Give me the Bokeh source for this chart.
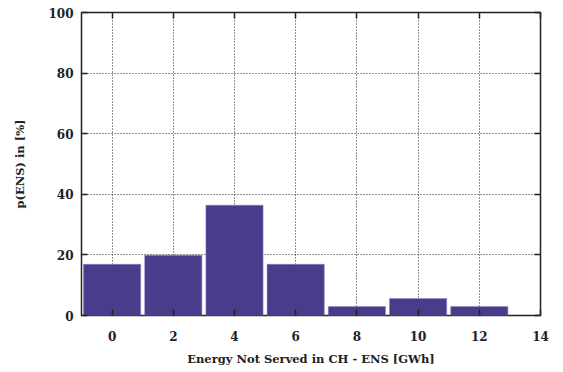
from bokeh.plotting import figure
from bokeh.models import LinearAxis, Range1d, FixedTicker, ColumnDataSource
from bokeh.embed import file_html
from bokeh.resources import INLINE

ens_gwh = [0, 2, 4, 6, 8, 10, 12]
prob_pct = [16.9, 19.9, 36.4, 16.9, 3.0, 5.6, 3.0]
x_ticks = [0, 2, 4, 6, 8, 10, 12, 14]
y_ticks = [0, 20, 40, 60, 80, 100]

src = ColumnDataSource(dict(x=ens_gwh, top=prob_pct))

FONT = "DejaVu Serif"

p = figure(width=555, height=368, output_backend="svg", toolbar_location=None,
           x_range=Range1d(-1, 14), y_range=Range1d(0, 100),
           min_border_left=81, min_border_right=15, min_border_top=12, min_border_bottom=45)

p.vbar(x="x", top="top", bottom=0, width=1.87, source=src,
       fill_color="#483D8B", line_color="#8f86c4", line_width=0.5)

p.outline_line_color="#222222"
p.outline_line_width=1.5

for g in (p.xgrid[0], p.ygrid[0]):
    g.grid_line_color = "black"
    g.grid_line_dash = "1 2"
    g.grid_line_alpha = 0.85
p.xgrid[0].ticker = FixedTicker(ticks=x_ticks)
p.ygrid[0].ticker = FixedTicker(ticks=y_ticks)

def style(ax, ticks, show_labels=True):
    ax.ticker = FixedTicker(ticks=ticks)
    ax.axis_line_color = None
    ax.major_tick_in = 6
    ax.major_tick_out = 0
    ax.major_tick_line_color = "#222222"
    ax.major_tick_line_width = 1.5
    ax.minor_tick_line_color = None
    ax.major_label_text_font = FONT
    ax.major_label_text_font_style = "bold"
    ax.major_label_text_font_size = "12px"
    ax.major_label_text_color = "#222222"
    ax.axis_label_text_font = FONT
    ax.axis_label_text_font_style = "bold"
    ax.axis_label_text_font_size = "11.5px"
    ax.axis_label_text_color = "#222222"
    if not show_labels:
        ax.major_label_text_font_size = "0px"
        ax.major_label_text_alpha = 0

style(p.xaxis[0], x_ticks)
style(p.yaxis[0], y_ticks)
p.xaxis[0].axis_label = "Energy Not Served in CH - ENS [GWh]"
p.yaxis[0].axis_label = "p(ENS) in [%]"
p.xaxis[0].major_label_standoff = 15
p.xaxis[0].axis_label_standoff = 8
p.yaxis[0].major_label_standoff = 8
p.yaxis[0].axis_label_standoff = 18

top_ax = LinearAxis()
right_ax = LinearAxis()
style(top_ax, x_ticks, False)
style(right_ax, y_ticks, False)
p.add_layout(top_ax, "above")
p.add_layout(right_ax, "right")

open("out.html", "w").write(file_html(p, INLINE))
